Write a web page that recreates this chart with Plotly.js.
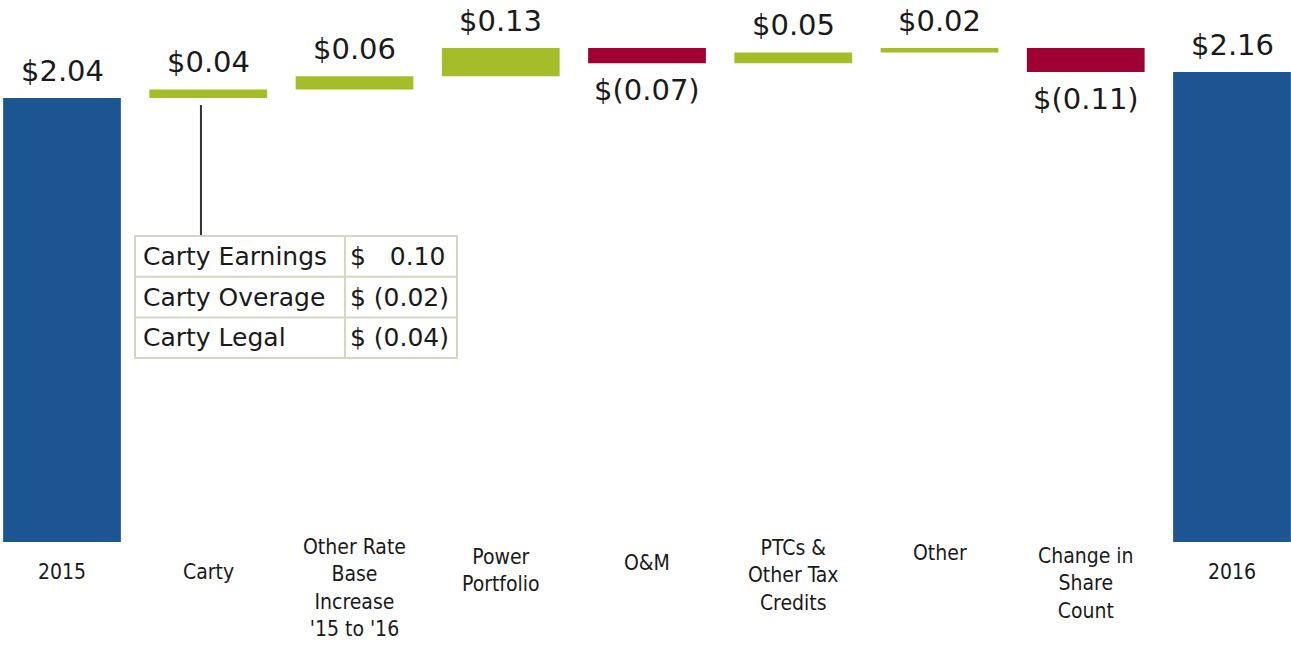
<!DOCTYPE html>
<html>
<head>
<meta charset="utf-8">
<script src="https://cdn.plot.ly/plotly-3.0.1.min.js"></script>
<style>html,body{margin:0;padding:0;background:#fff;}#chart{width:1291px;height:645px;}</style>
</head>
<body>
<div id="chart"></div>
<script>
// ---- data ----
var categories = ["2015", "Carty", "Other Rate<br>Base<br>Increase<br>'15 to '16", "Power<br>Portfolio", "O&M", "PTCs &<br>Other Tax<br>Credits", "Other", "Change in<br>Share<br>Count", "2016"];
var values = [2.04, 0.04, 0.06, 0.13, -0.07, 0.05, 0.02, -0.11, 2.16];
var measures = ["absolute", "relative", "relative", "relative", "relative", "relative", "relative", "relative", "total"];
var tableLabels = ["Carty Earnings", "Carty Overage", "Carty Legal"];
var tableValues = ["$\u00a0\u00a0\u00a00.10", "$\u00a0(0.02)", "$\u00a0(0.04)"];

// ---- style / layout ----
var BLUE = "#1d5593", GREEN = "#a5bd28", RED = "#9e0033";
var W = 1291, H = 645, PLOT_BOTTOM = 542;
var labelCenterY = [572, 572, 588, 570, 563, 575, 553, 583, 572];

function fmt(v) {
  var s = Math.abs(v).toFixed(2);
  return v < 0 ? "$(" + s + ")" : "$" + s;
}
function py(pix) { return (PLOT_BOTTOM - pix) / PLOT_BOTTOM; }
function px(pix) { return pix / W; }

var ann = [];
var run = 0;
for (var i = 0; i < values.length; i++) {
  var start, end;
  if (measures[i] === "absolute") { start = 0; end = values[i]; run = values[i]; }
  else if (measures[i] === "total") { start = 0; end = run; }
  else { start = run; end = run + values[i]; run = end; }
  var neg = end < start;
  ann.push({
    x: i, xref: "x", y: end, yref: "y",
    text: fmt(measures[i] === "total" ? run : values[i]),
    showarrow: false, yanchor: neg ? "top" : "bottom",
    yshift: neg ? -8 : 8,
    font: {family: "DejaVu Sans", size: 29, color: "#1a1a1a"}
  });
  ann.push({
    x: i, xref: "x", y: 0, yref: "paper",
    text: categories[i], showarrow: false, yanchor: "middle",
    yshift: -(labelCenterY[i] - PLOT_BOTTOM),
    font: {family: "DejaVu Sans Condensed, sans-serif", size: 21, color: "#1a1a1a"}
  });
}

// ---- detail table (drawn with shapes + annotations) ----
var T = {x0: 135, x1: 457, xMid: 345, y0: 236, rowH: 40.7};
var tblFont = {family: "DejaVu Sans", size: 25, color: "#1a1a1a"};
var lineStyle = {color: "#d3d8c3", width: 2};
var shapes = [{
  type: "line", xref: "x", yref: "paper",
  x0: 0.95, x1: 0.95, y0: py(105), y1: py(236),
  line: {color: "#333333", width: 2}
}];
var nRows = tableLabels.length;
var yBottom = T.y0 + nRows * T.rowH;
shapes.push({type: "rect", xref: "paper", yref: "paper", x0: px(T.x0), x1: px(T.x1), y0: py(T.y0), y1: py(yBottom), line: lineStyle, fillcolor: "rgba(255,255,255,1)", layer: "above"});
shapes.push({type: "line", xref: "paper", yref: "paper", x0: px(T.xMid), x1: px(T.xMid), y0: py(T.y0), y1: py(yBottom), line: lineStyle});
for (var r = 0; r < nRows; r++) {
  var yc = T.y0 + (r + 0.5) * T.rowH;
  if (r > 0) {
    shapes.push({type: "line", xref: "paper", yref: "paper", x0: px(T.x0), x1: px(T.x1), y0: py(T.y0 + r * T.rowH), y1: py(T.y0 + r * T.rowH), line: lineStyle});
  }
  ann.push({xref: "paper", yref: "paper", x: px(T.x0 + 6), y: py(yc), xanchor: "left", yanchor: "middle", text: tableLabels[r], showarrow: false, font: tblFont});
  ann.push({xref: "paper", yref: "paper", x: px(T.xMid + 3), y: py(yc), xanchor: "left", yanchor: "middle", text: tableValues[r], showarrow: false, font: tblFont});
}

var wf = {
  type: "waterfall",
  x: categories,
  y: values,
  measure: measures,
  width: 0.805,
  connector: {visible: false},
  increasing: {marker: {color: GREEN}},
  decreasing: {marker: {color: RED}},
  totals: {marker: {color: BLUE}},
  hoverinfo: "x+y",
  showlegend: false
};

var layout = {
  width: W, height: H,
  margin: {l: 0, r: 0, t: 0, b: H - PLOT_BOTTOM},
  paper_bgcolor: "#ffffff", plot_bgcolor: "#ffffff",
  showlegend: false,
  xaxis: {type: "category", range: [-62 / 146.25, 8 + 59 / 146.25], showticklabels: false, showgrid: false, zeroline: false, showline: false, ticks: ""},
  yaxis: {range: [0, PLOT_BOTTOM / 217.6], showticklabels: false, showgrid: false, zeroline: false, showline: false, ticks: ""},
  annotations: ann,
  shapes: shapes
};

Plotly.newPlot("chart", [wf], layout, {displayModeBar: false, staticPlot: true});
</script>
</body>
</html>
